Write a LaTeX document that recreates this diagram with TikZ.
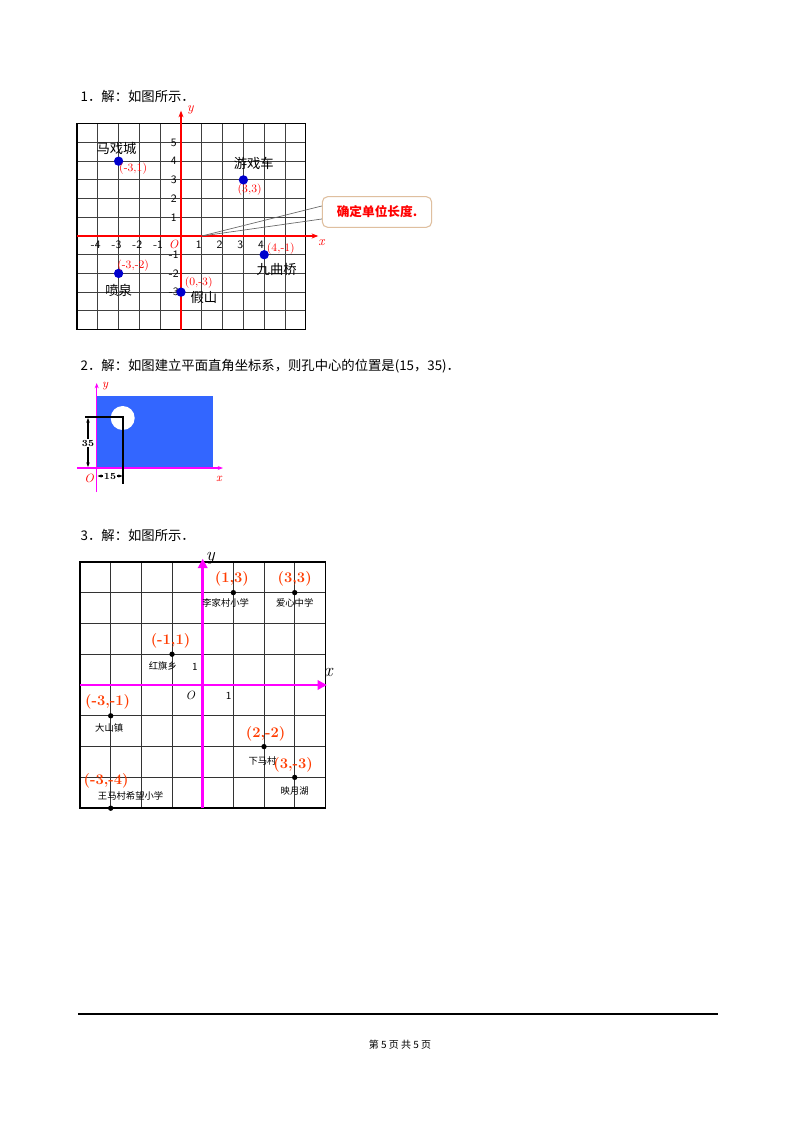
\documentclass[tikz,border=0pt]{standalone}
\usepackage{fontspec}
\newfontfamily\cjk{Noto Sans CJK SC}
\usetikzlibrary{arrows.meta}
\definecolor{ptblue}{RGB}{0,0,205}
\definecolor{fillblue}{RGB}{51,102,255}
\definecolor{mag}{RGB}{255,0,255}
\definecolor{cred}{RGB}{255,60,0}
\tikzset{
 grid1/.style={black!75,line width=0.6pt},
 axr/.style={red,line width=1pt,-{Stealth[length=5pt]}},
 pt1/.style={circle,fill=ptblue,inner sep=0pt,minimum size=7pt},
 nm1/.style={font=\cjk\fontsize{10}{10}\selectfont},
 co1/.style={text=red,font=\fontsize{8.5}{8.5}\selectfont},
 tk/.style={font=\sffamily\fontsize{8.5}{9}\selectfont},
 pt3/.style={circle,fill=black,inner sep=0pt,minimum size=4pt},
 co3/.style={text=cred,font=\bfseries\fontsize{11}{11}\selectfont},
 nm3/.style={font=\cjk\fontsize{7}{7}\selectfont},
 body/.style={font=\cjk\fontsize{10}{12}\selectfont,anchor=west},
}
\begin{document}
\begin{tikzpicture}[x=0.75pt,y=-0.75pt]
\useasboundingbox (0,0) rectangle (800,1132);
\fill[white] (0,0) rectangle (800,1132);
% headings
\node[body] (h1) at (76,96) {1．解：如图所示．};
\node[body] (h2) at (76,366) {2．解：如图建立平面直角坐标系，则孔中心的位置是(15，35)．};
\node[body] (h3) at (76,535) {3．解：如图所示．};
% ---------- figure 1
\begin{scope}[shift={(181,236)},x=15.6pt,y=14.03pt]
 \foreach \i in {-5,...,6}{\draw[grid1] (\i,-5) -- (\i,6); \draw[grid1] (-5,\i) -- (6,\i);}
 \draw[black,line width=1pt] (-5,-5) rectangle (6,6);
 \draw[axr] (-5,0) -- (6.6,0);
 \draw[axr] (0,-5) -- (0,6.7);
 \node[text=red,font=\itshape\fontsize{10}{10}\selectfont] (ylab) at (0.45,6.75) {y};
 \node[text=red,font=\itshape\fontsize{10}{10}\selectfont] (xlab) at (6.75,-0.35) {x};
 \node[text=red,font=\itshape\fontsize{9}{9}\selectfont] (o1) at (-0.35,-0.45) {O};
 \foreach \i in {1,...,5}{\node[tk] at (-0.35,\i) {\i};}
 \foreach \i in {1,2,3}{\node[tk] at (-0.35,-\i) {-\i};}
 \foreach \i in {1,...,4}{\node[tk] at (-\i-0.1,-0.45) {-\i};}
 \foreach \i in {1,...,4}{\node[tk] at (\i-0.15,-0.45) {\i};}
 \node[pt1] (A) at (-3,4) {};
 \node[nm1] (An) at (-3.1,4.7) {马戏城};
 \node[co1] (Ac) at (-2.3,3.6) {(-3,1)};
 \node[pt1] (B) at (3,3) {};
 \node[nm1] (Bn) at (3.5,3.9) {游戏车};
 \node[co1] (Bc) at (3.3,2.5) {(3,3)};
 \node[pt1] (C) at (4,-1) {};
 \node[co1] (Cc) at (4.8,-0.7) {(4,-1)};
 \node[nm1] (Cn) at (4.6,-1.8) {九曲桥};
 \node[pt1] (D) at (-3,-2) {};
 \node[co1] (Dc) at (-2.3,-1.6) {(-3,-2)};
 \node[nm1] (Dn) at (-3,-2.9) {喷泉};
 \node[pt1] (E) at (0,-3) {};
 \node[co1] (Ec) at (0.85,-2.5) {(0,-3)};
 \node[nm1] (En) at (1.1,-3.3) {假山};
 \coordinate (tip) at (1,0);
\end{scope}
\node[draw=brown!50,line width=0.8pt,rounded corners=4pt,fill=white,minimum width=82pt,minimum height=23pt,text=red,font=\cjk\bfseries\fontsize{9.5}{10}\selectfont] (call) at (377,212) {确定单位长度.};
\draw[black!60,line width=0.5pt] (tip) -- (call.west|-0,206) ;
\draw[black!60,line width=0.5pt] (tip) -- (call.west|-0,219) ;
% ---------- figure 2
\fill[fillblue] (96.7,396) rectangle (213,468);
\fill[white] (122.7,418) circle (12);
\draw[mag,line width=1pt,-{Stealth[length=4pt]}] (77,468) -- (223,468);
\draw[mag,line width=1pt,-{Stealth[length=4pt]}] (96.7,492) -- (96.7,383);
\draw[black,line width=1pt] (85,417) -- (123,417) -- (123,484);
\node[text=red,font=\itshape\fontsize{9}{9}\selectfont] (o2) at (89,478) {O};
\node[text=red,font=\itshape\fontsize{9}{9}\selectfont] (x2) at (219,479) {x};
\node[text=red,font=\itshape\fontsize{9}{9}\selectfont] (y2) at (105,386) {y};
\node[font=\bfseries\fontsize{7}{7}\selectfont,fill=white,inner sep=0.5pt] (d35) at (88,443) {35};
\draw[black,line width=0.8pt,-{Stealth[length=3.5pt]}] (d35.north) -- (88,418);
\draw[black,line width=0.8pt,-{Stealth[length=3.5pt]}] (d35.south) -- (88,467);
\node[font=\bfseries\fontsize{7}{7}\selectfont,inner sep=0.5pt] (d15) at (110,476) {15};
\draw[black,line width=0.8pt,-{Stealth[length=3pt]}] (d15.west) -- (97.5,476);
\draw[black,line width=0.8pt,-{Stealth[length=3pt]}] (d15.east) -- (122.5,476);
% ---------- figure 3
\begin{scope}[shift={(202.7,685)},x=23.0pt,y=23.1pt]
 \foreach \i in {-4,...,4}{\draw[black!80,line width=0.7pt] (\i,-4) -- (\i,4); \draw[black!80,line width=0.7pt] (-4,\i) -- (4,\i);}
 \draw[black,line width=1.2pt] (-4,-4) rectangle (4,4);
 \draw[mag,line width=2.2pt,-{Triangle[length=7pt,width=7pt]}] (-4,0) -- (4.05,0);
 \draw[mag,line width=2.2pt,-{Triangle[length=7pt,width=7pt]}] (0,-4) -- (0,4.1);
 \node[font=\itshape\fontsize{14}{14}\selectfont] (x3) at (4.1,0.4) {x};
 \node[font=\itshape\fontsize{14}{14}\selectfont] (y3) at (0.25,4.1) {y};
 \node[font=\itshape\fontsize{9}{9}\selectfont] (o3) at (-0.4,-0.35) {O};
 \node[font=\sffamily\fontsize{8}{8}\selectfont] (one1) at (0.85,-0.35) {1};
 \node[font=\sffamily\fontsize{8}{8}\selectfont] (one2) at (-0.25,0.6) {1};
 \node[pt3] (P1) at (1,3) {}; \node[co3] at (0.95,3.45) {(1,3)}; \node[nm3] at (0.75,2.65) {李家村小学};
 \node[pt3] (P2) at (3,3) {}; \node[co3] at (3,3.45) {(3,3)}; \node[nm3] at (3,2.65) {爱心中学};
 \node[pt3] (P3) at (-1,1) {}; \node[co3] at (-1.05,1.45) {(-1,1)}; \node[nm3] at (-1.3,0.63) {红旗乡};
 \node[pt3] (P4) at (-3,-1) {}; \node[co3] at (-3.1,-0.55) {(-3,-1)}; \node[nm3] at (-3.05,-1.4) {大山镇};
 \node[pt3] (P5) at (2,-2) {}; \node[co3] at (2.05,-1.6) {(2,-2)}; \node[nm3] at (1.95,-2.45) {下马村};
 \node[pt3] (P6) at (3,-3) {}; \node[co3] at (2.95,-2.6) {(3,-3)}; \node[nm3] at (3,-3.43) {映月湖};
 \node[pt3] (P7) at (-3,-4) {}; \node[co3] at (-3.15,-3.1) {(-3,-4)}; \node[nm3] at (-2.35,-3.6) {王马村希望小学};
\end{scope}
% footer
\draw[black,line width=0.8pt] (78,1014) -- (718,1014);
\node[font=\cjk\fontsize{7.5}{8}\selectfont] (ft) at (400,1045) {第 5 页 共 5 页};
\end{tikzpicture}
\end{document}
